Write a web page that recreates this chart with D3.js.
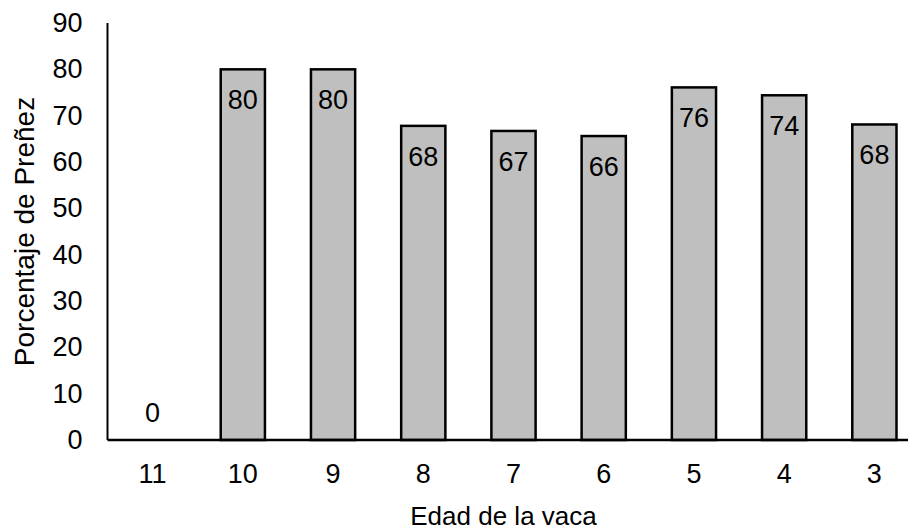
<!DOCTYPE html>
<html>
<head>
<meta charset="utf-8">
<script src="https://cdn.jsdelivr.net/npm/d3@7"></script>
<style>
  html, body { margin: 0; padding: 0; background: #fff; }
  svg { display: block; font-family: Arial, "Liberation Sans", sans-serif; }
</style>
</head>
<body>
<svg id="chart" width="908" height="531"></svg>
<script>
const categories = ["11", "10", "9", "8", "7", "6", "5", "4", "3"];
const values = [0, 80, 80, 67.8, 66.7, 65.6, 76.1, 74.4, 68.1];
const labels = ["0", "80", "80", "68", "67", "66", "76", "74", "68"];
const yTicks = [0, 10, 20, 30, 40, 50, 60, 70, 80, 90];
const xTitle = "Edad de la vaca";
const yTitle = "Porcentaje de Preñez";

(function () {
const svg = d3.select("#chart");
const mLeft = 107.5, mRight = 919.5, mTop = 23, mBottom = 440;

const x = d3.scaleBand().domain(categories).range([mLeft, mRight]).paddingInner(0.51).paddingOuter(0.255);
const y = d3.scaleLinear().domain([0, 90]).range([mBottom, mTop]);

// y tick labels
const ya = svg.append("g").attr("transform", `translate(${mLeft},0)`)
  .call(d3.axisLeft(y).tickValues(yTicks).tickSize(0).tickPadding(25).tickFormat(d3.format("d")));
ya.select(".domain").remove();
ya.selectAll("text").attr("font-size", 27).attr("fill", "#000")
  .attr("font-family", "Arial, 'Liberation Sans', sans-serif");

// bars
const data = categories.map((c, i) => ({c, v: values[i], l: labels[i]}));
svg.append("g").selectAll("rect").data(data.filter(d => d.v > 0)).join("rect")
  .attr("x", d => x(d.c)).attr("width", x.bandwidth())
  .attr("y", d => y(d.v)).attr("height", d => y(0) - y(d.v))
  .attr("fill", "#bfbfbf").attr("stroke", "#000").attr("stroke-width", 2.5);

// data labels
svg.append("g").selectAll("text").data(data).join("text")
  .attr("x", d => x(d.c) + x.bandwidth() / 2)
  .attr("y", d => d.v > 0 ? y(d.v) + 40 : y(0) - 18)
  .attr("text-anchor", "middle").attr("font-size", 27).attr("fill", "#000")
  .text(d => d.l);

// axes lines
svg.append("line").attr("x1", mLeft).attr("x2", mLeft).attr("y1", mTop).attr("y2", mBottom)
  .attr("stroke", "#000").attr("stroke-width", 2);
const xa = svg.append("g").attr("transform", `translate(0,${mBottom})`)
  .call(d3.axisBottom(x).tickSize(0).tickPadding(24));
xa.select(".domain").attr("stroke", "#000").attr("stroke-width", 2.5).attr("d", `M${mLeft},0H${mRight}`);
xa.selectAll("text").attr("font-size", 27).attr("fill", "#000")
  .attr("font-family", "Arial, 'Liberation Sans', sans-serif");

// titles
svg.append("text").attr("x", 503.5).attr("y", 525).attr("text-anchor", "middle")
  .attr("font-size", 26).attr("fill", "#000").text(xTitle);
svg.append("text").attr("transform", `translate(34,231.5) rotate(-90)`).attr("text-anchor", "middle")
  .attr("font-size", 28).attr("fill", "#000").text(yTitle);
})();
</script>
</body>
</html>
